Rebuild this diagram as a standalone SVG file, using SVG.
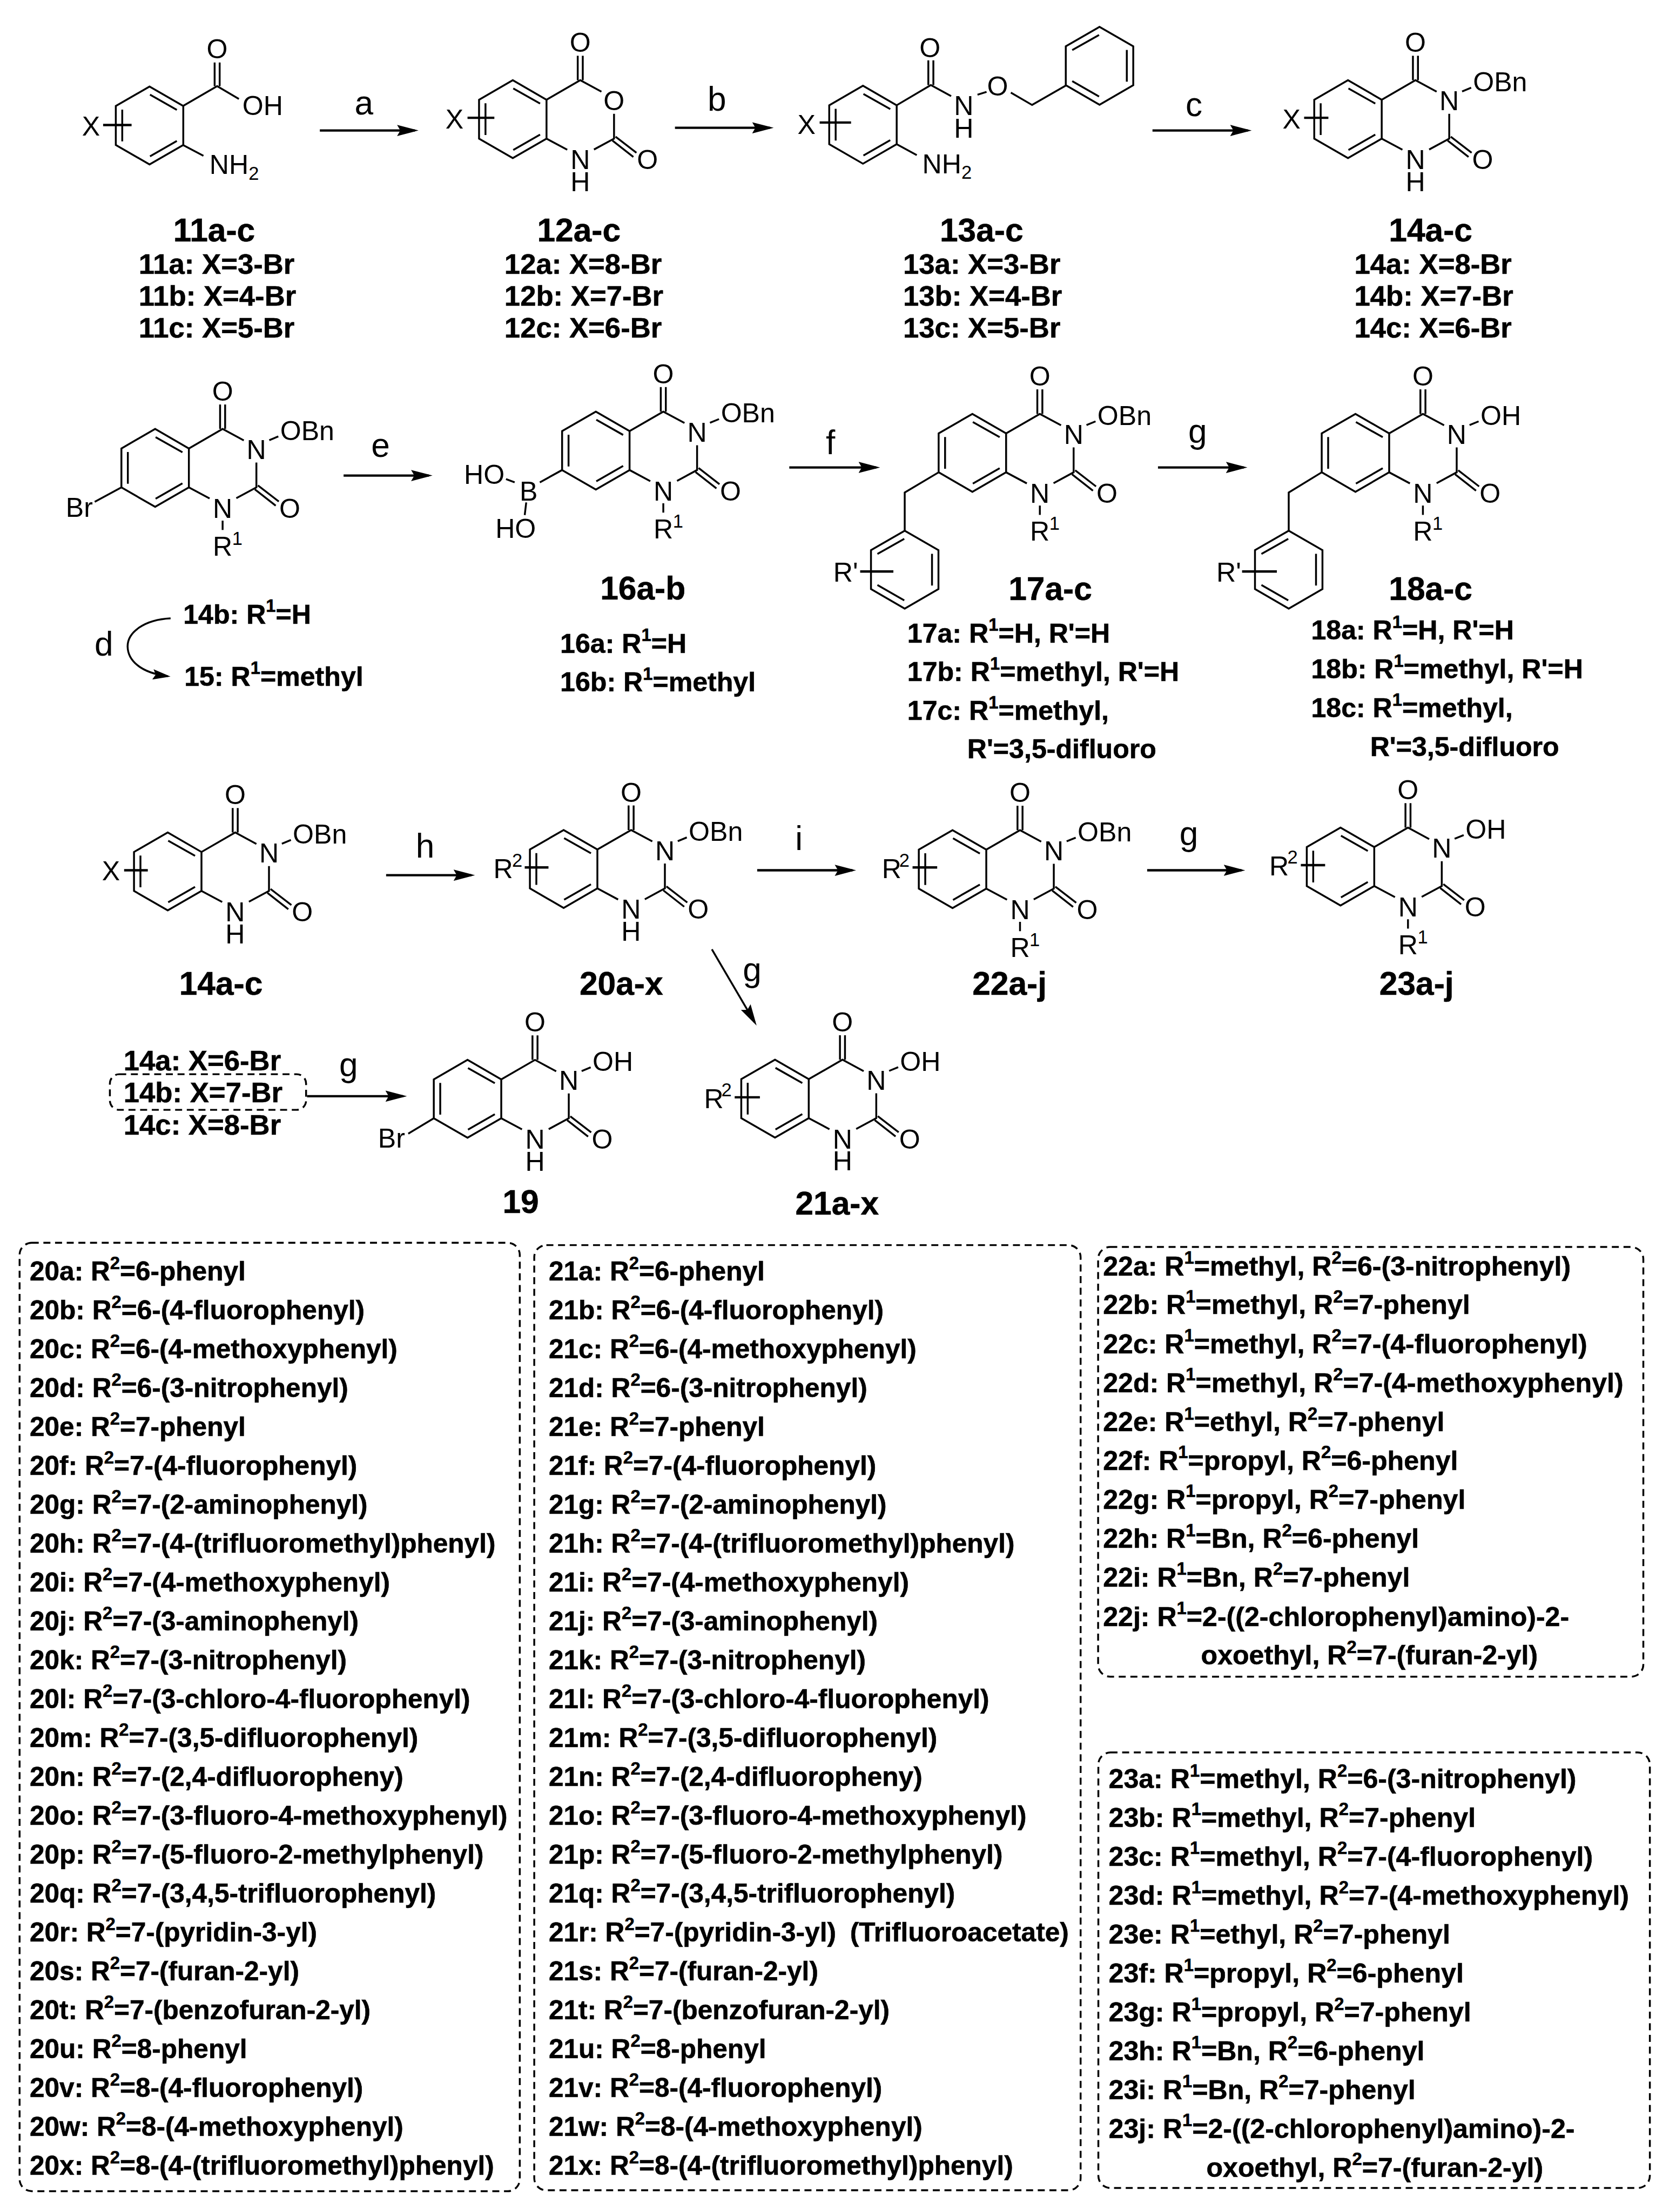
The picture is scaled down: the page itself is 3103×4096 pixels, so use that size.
<svg xmlns="http://www.w3.org/2000/svg" width="3103" height="4096" viewBox="0 0 3103 4096">
<style>
text{font-family:"Liberation Sans",Arial,sans-serif;fill:#000}
.a{font-size:58px}
.am{font-size:58px;text-anchor:middle}
.rx{font-size:72px;text-anchor:middle}
.n{font-size:70px;font-weight:700;text-anchor:middle;stroke:#000;stroke-width:.7}
.m{font-size:61px;font-weight:700;stroke:#000;stroke-width:.7}
.l{font-size:58px;font-weight:700;stroke:#000;stroke-width:.7}
#list-20 .l,#list-21 .l{font-size:57.4px}
.u{font-size:38px}
.s{font-size:40px}
.b,.b path,.b polygon{fill:none;stroke:#000;stroke-width:4;stroke-linejoin:miter}
.sub{fill:none;stroke:#000;stroke-width:5}
.arr{fill:none;stroke:#000;stroke-width:5;marker-end:url(#ah)}
.arr2{fill:none;stroke:#000;stroke-width:4;marker-end:url(#ah)}
.cur{fill:none;stroke:#000;stroke-width:4;marker-end:url(#ah2)}
.d{fill:none;stroke:#000;stroke-width:4;stroke-dasharray:15 10}
</style>
<defs>
<marker id="ah" markerUnits="userSpaceOnUse" viewBox="0 0 46 24" refX="38" refY="12" markerWidth="46" markerHeight="24" orient="auto"><path d="M0 0L46 12L0 24L7 12Z" fill="#000"/></marker>
<marker id="ah2" markerUnits="userSpaceOnUse" viewBox="0 0 38 22" refX="32" refY="11" markerWidth="38" markerHeight="22" orient="auto"><path d="M0 0L38 11L0 22L6 11Z" fill="#000"/></marker>
<g id="benz" class="b"><polygon points="0,-83.5 72.3,-41.75 72.3,41.75 0,83.5 -72.3,41.75 -72.3,-41.75"/><path d="M1 -66L58.5 -33.5M-58.5 -34V34M1 66L58.5 33"/></g>
<g id="pyr" class="b"><path d="M72.3 -41.75L144.6 -83.5L190 -59M217 -11.5V41.75L174 65M72.3 41.75L116.7 65.5M139.2 -83.5V-136M150 -83.5V-136M220.3 37.5L265 72M213.7 46L258.4 81"/></g>
<g id="noh" class="b"><path d="M244.6 -59.5L264 -67.5"/></g>
<g id="nr" class="b"><path d="M144.6 113V133"/></g>
</defs>
<g transform="scale(0.86386)">
<g id="connectors">
<path class="arr" d="M685.5 279.7H889"/>
<path class="arr" d="M1446.6 274H1650"/>
<path class="arr" d="M2470 279.7H2674.5"/>
<path class="arr" d="M736.4 1019.4H919"/>
<path class="arr" d="M1691.6 1002H1878"/>
<path class="arr" d="M2481.8 1002H2665.5"/>
<path class="arr" d="M827.5 1876H1010"/>
<path class="arr" d="M1622.8 1865.5H1827"/>
<path class="arr" d="M2458.6 1865.5H2660.7"/>
<path class="arr" d="M658 2349.7H864"/>
<path class="arr2" d="M1525.7 2035L1617.5 2191.4"/>
<path class="cur" d="M365.6 1325.4C310 1328 273 1355 273.5 1386C274 1415 300 1442 359.5 1449.5"/>
<text class="rx" x="780" y="245">a</text>
<text class="rx" x="1536.5" y="237.5">b</text>
<text class="rx" x="2559" y="249">c</text>
<text class="rx" x="222.5" y="1405.8">d</text>
<text class="rx" x="815.6" y="979">e</text>
<text class="rx" x="1780" y="973.5">f</text>
<text class="rx" x="2566.7" y="949.4">g</text>
<text class="rx" x="911" y="1838">h</text>
<text class="rx" x="1712.4" y="1822.6">i</text>
<text class="rx" x="2548" y="1811.6">g</text>
<text class="rx" x="1612" y="2103.6">g</text>
<text class="rx" x="747" y="2307.5">g</text>
</g>
<g id="cmpd-11">
<use href="#benz" x="320.5" y="269"/>
<g class="b"><path d="M392.7 227L465.4 184.6L512 212M460 184.6V134M470.8 184.6V134M392.7 311L436 334"/></g>
<path class="sub" d="M221 268H282"/>
<text class="am" x="195" y="291">X</text>
<text class="am" x="465.4" y="125">O</text>
<text class="a" x="519.6" y="246.6">OH</text>
<text class="a" x="449" y="373">NH<tspan class="s" dy="12">2</tspan></text>
<text class="n" x="459" y="517.6">11a-c</text>
<text class="m" x="297.3" y="586.4">11a: X=3-Br</text>
<text class="m" x="297.3" y="655">11b: X=4-Br</text>
<text class="m" x="297.3" y="723">11c: X=5-Br</text>
</g>
<g id="cmpd-12">
<g transform="translate(1099,255.5)">
<use href="#benz"/><use href="#pyr"/>
<path class="sub" d="M-97 -3H-39.500"/>
<text class="am" x="-125" y="19.500">X</text>
<text class="am" x="144.600" y="-144">O</text>
<text class="am" x="217" y="-19">O</text>
<text class="am" x="288.600" y="107">O</text>
<text class="am"><tspan x="144.600" y="107">N</tspan><tspan x="144.600" y="154">H</tspan></text>
</g>
<text class="n" x="1240.7" y="517.6">12a-c</text>
<text class="m" x="1081" y="586.4">12a: X=8-Br</text>
<text class="m" x="1081" y="655">12b: X=7-Br</text>
<text class="m" x="1081" y="723">12c: X=6-Br</text>
</g>
<g id="cmpd-13">
<use href="#benz" x="1849.5" y="267.4"/>
<use href="#benz" transform="translate(2356.5,141) scale(-1,1)"/>
<g class="b"><path d="M1921.8 225.6L1995 182.3L2038.500 206M1989.6 182.3V129.500M2000.4 182.3V129.500M2095 203L2114.4 197M2166.5 198.4L2212 225L2284.6 183.3M1921.8 309L1964.8 332.500"/></g>
<path class="sub" d="M1756.7 262.7H1824"/>
<text class="am" x="1728.5" y="286.6">X</text>
<text class="am" x="1993" y="122.7">O</text>
<text class="am"><tspan x="2065.6" y="246.6">N</tspan><tspan x="2065.6" y="295">H</tspan></text>
<text class="am" x="2138" y="204.4">O</text>
<text class="a" x="1976.7" y="371.5">NH<tspan class="s" dy="12">2</tspan></text>
<text class="n" x="2103.6" y="517.6">13a-c</text>
<text class="m" x="1935.5" y="586.4">13a: X=3-Br</text>
<text class="m" x="1935.5" y="655">13b: X=4-Br</text>
<text class="m" x="1935.5" y="723">13c: X=5-Br</text>
</g>
<g id="cmpd-14">
<g transform="translate(2889,255.5)">
<use href="#benz"/><use href="#pyr"/><use href="#noh"/>
<path class="sub" d="M-94 -3H-42"/>
<text class="am" x="-121" y="19.500">X</text>
<text class="am" x="144.600" y="-144">O</text>
<text class="am" x="217" y="-19">N</text>
<text class="a" x="268" y="-60">OBn</text>
<text class="am" x="288.600" y="107">O</text>
<text class="am"><tspan x="144.600" y="107">N</tspan><tspan x="144.600" y="154">H</tspan></text>
</g>
<text class="n" x="3066" y="517.6">14a-c</text>
<text class="m" x="2902.6" y="586.4">14a: X=8-Br</text>
<text class="m" x="2902.6" y="655">14b: X=7-Br</text>
<text class="m" x="2902.6" y="723">14c: X=6-Br</text>
</g>
<g id="cmpd-15">
<g transform="translate(332.5,1003)">
<use href="#benz"/><use href="#pyr"/><use href="#noh"/><use href="#nr"/>
<g class="b"><path d="M-72.3 41.75L-129.500 72.7"/></g>
<text class="a" x="-191.500" y="105.400">Br</text>
<text class="am" x="144.600" y="-144">O</text>
<text class="am" x="217" y="-19">N</text>
<text class="a" x="268" y="-60">OBn</text>
<text class="am" x="288.600" y="107">O</text>
<text class="am" x="144.600" y="107">N</text>
<text class="am" x="144.600" y="188">R</text><text class="s" x="165" y="165">1</text>
</g>
<text class="l" x="392.7" y="1337">14b: R<tspan class="u" dy="-25">1</tspan><tspan dy="25">=H</tspan></text>
<text class="l" x="395" y="1470">15: R<tspan class="u" dy="-25">1</tspan><tspan dy="25">=methyl</tspan></text>
</g>
<g id="cmpd-16">
<g transform="translate(1277,965.8)">
<use href="#benz"/><use href="#pyr"/><use href="#noh"/><use href="#nr"/>
<g class="b"><path d="M-72.3 41.75L-120 68.2M-174 68.2L-192.500 61.2M-149.2 111.2L-152.4 138.2"/></g>
<text class="am" x="-144" y="107">B</text>
<text class="a" x="-282.6" y="71">HO</text>
<text class="a" x="-215.3" y="187.2">HO</text>
<text class="am" x="144.600" y="-144">O</text>
<text class="am" x="217" y="-19">N</text>
<text class="a" x="268" y="-60">OBn</text>
<text class="am" x="288.600" y="107">O</text>
<text class="am" x="144.600" y="107">N</text>
<text class="am" x="144.600" y="188">R</text><text class="s" x="165" y="165">1</text>
</g>
<text class="n" x="1377.7" y="1285">16a-b</text>
<text class="l" x="1200.5" y="1399">16a: R<tspan class="u" dy="-25">1</tspan><tspan dy="25">=H</tspan></text>
<text class="l" x="1200.5" y="1482">16b: R<tspan class="u" dy="-25">1</tspan><tspan dy="25">=methyl</tspan></text>
</g>
<g id="cmpd-17">
<g transform="translate(2084,970.7)">
<use href="#benz"/><use href="#pyr"/><use href="#noh"/><use href="#nr"/>
<use href="#benz" transform="translate(-145,250.3) scale(-1,1)"/>
<g class="b"><path d="M-72.3 41.75L-145 85V166.800"/></g>
<path class="sub" d="M-240.500 254.300H-169.300"/>
<text class="a" x="-298" y="276">R'</text>
<text class="am" x="144.600" y="-144">O</text>
<text class="am" x="217" y="-19">N</text>
<text class="a" x="268" y="-60">OBn</text>
<text class="am" x="288.600" y="107">O</text>
<text class="am" x="144.600" y="107">N</text>
<text class="am" x="144.600" y="188">R</text><text class="s" x="165" y="165">1</text>
</g>
<text class="n" x="2251" y="1286.4">17a-c</text>
<text class="l" x="1944.5" y="1377">17a: R<tspan class="u" dy="-25">1</tspan><tspan dy="25">=H, R'=H</tspan></text>
<text class="l" x="1944.5" y="1460">17b: R<tspan class="u" dy="-25">1</tspan><tspan dy="25">=methyl, R'=H</tspan></text>
<text class="l" x="1944.5" y="1543.5">17c: R<tspan class="u" dy="-25">1</tspan><tspan dy="25">=methyl,</tspan></text>
<text class="l" x="2073" y="1625.6">R'=3,5-difluoro</text>
</g>
<g id="cmpd-18">
<g transform="translate(2905,970.7)">
<use href="#benz"/><use href="#pyr"/><use href="#noh"/><use href="#nr"/>
<use href="#benz" transform="translate(-143,250.3) scale(-1,1)"/>
<g class="b"><path d="M-72.3 41.75L-143 85V166.800"/></g>
<path class="sub" d="M-243 254.300H-168.400"/>
<text class="a" x="-298" y="276">R'</text>
<text class="am" x="144.600" y="-144">O</text>
<text class="am" x="217" y="-19">N</text>
<text class="a" x="268" y="-60">OH</text>
<text class="am" x="288.600" y="107">O</text>
<text class="am" x="144.600" y="107">N</text>
<text class="am" x="144.600" y="188">R</text><text class="s" x="165" y="165">1</text>
</g>
<text class="n" x="3066" y="1286.4">18a-c</text>
<text class="l" x="2810" y="1371">18a: R<tspan class="u" dy="-25">1</tspan><tspan dy="25">=H, R'=H</tspan></text>
<text class="l" x="2810" y="1454.5">18b: R<tspan class="u" dy="-25">1</tspan><tspan dy="25">=methyl, R'=H</tspan></text>
<text class="l" x="2810" y="1537.8">18c: R<tspan class="u" dy="-25">1</tspan><tspan dy="25">=methyl,</tspan></text>
<text class="l" x="2936.4" y="1621">R'=3,5-difluoro</text>
</g>
<g id="cmpd-14-row3">
<g transform="translate(359.5,1868)">
<use href="#benz"/><use href="#pyr"/><use href="#noh"/>
<path class="sub" d="M-93.500 -2.500H-42.700"/>
<text class="am" x="-121.800" y="19">X</text>
<text class="am" x="144.600" y="-144">O</text>
<text class="am" x="217" y="-19">N</text>
<text class="a" x="268" y="-60">OBn</text>
<text class="am" x="288.600" y="107">O</text>
<text class="am"><tspan x="144.600" y="107">N</tspan><tspan x="144.600" y="154">H</tspan></text>
</g>
<text class="n" x="473.5" y="2132">14a-c</text>
<text class="m" x="264.8" y="2294">14a: X=6-Br</text>
<text class="m" x="264.8" y="2362.6">14b: X=7-Br</text>
<text class="m" x="264.8" y="2431.8">14c: X=8-Br</text>
<rect class="d" x="235.5" y="2302.6" width="420.5" height="76.4" rx="20"/>
</g>
<g id="cmpd-20">
<g transform="translate(1208,1862.6)">
<use href="#benz"/><use href="#pyr"/><use href="#noh"/>
<path class="sub" d="M-83.400 -3.200H-32.500"/>
<text class="a" x="-150.600" y="20">R</text><text class="s" x="-110.500" y="-5">2</text>
<text class="am" x="144.600" y="-144">O</text>
<text class="am" x="217" y="-19">N</text>
<text class="a" x="268" y="-60">OBn</text>
<text class="am" x="288.600" y="107">O</text>
<text class="am"><tspan x="144.600" y="107">N</tspan><tspan x="144.600" y="154">H</tspan></text>
</g>
<text class="n" x="1331.6" y="2132">20a-x</text>
</g>
<g id="cmpd-22">
<g transform="translate(2041.5,1863)">
<use href="#benz"/><use href="#pyr"/><use href="#noh"/><use href="#nr"/>
<path class="sub" d="M-85.700 -3.600H-32.900"/>
<text class="a" x="-151.500" y="19.600">R</text><text class="s" x="-114.500" y="-5.400">2</text>
<text class="am" x="144.600" y="-144">O</text>
<text class="am" x="217" y="-19">N</text>
<text class="a" x="268" y="-60">OBn</text>
<text class="am" x="288.600" y="107">O</text>
<text class="am" x="144.600" y="107">N</text>
<text class="am" x="144.600" y="188">R</text><text class="s" x="165" y="165">1</text>
</g>
<text class="n" x="2163.6" y="2132">22a-j</text>
</g>
<g id="cmpd-23">
<g transform="translate(2873,1857.5)">
<use href="#benz"/><use href="#pyr"/><use href="#noh"/><use href="#nr"/>
<path class="sub" d="M-85 -3H-33"/>
<text class="a" x="-152.700" y="18.500">R</text><text class="s" x="-114" y="-6.500">2</text>
<text class="am" x="144.600" y="-144">O</text>
<text class="am" x="217" y="-19">N</text>
<text class="a" x="268" y="-60">OH</text>
<text class="am" x="288.600" y="107">O</text>
<text class="am" x="144.600" y="107">N</text>
<text class="am" x="144.600" y="188">R</text><text class="s" x="165" y="165">1</text>
</g>
<text class="n" x="3036" y="2132">23a-j</text>
</g>
<g id="cmpd-19">
<g transform="translate(1002,2355.4)">
<use href="#benz"/><use href="#pyr"/><use href="#noh"/>
<g class="b"><path d="M-72.3 41.75L-127 74.600"/></g>
<text class="a" x="-192" y="105">Br</text>
<text class="am" x="144.600" y="-144">O</text>
<text class="am" x="217" y="-19">N</text>
<text class="a" x="268" y="-60">OH</text>
<text class="am" x="288.600" y="107">O</text>
<text class="am"><tspan x="144.600" y="107">N</tspan><tspan x="144.600" y="154">H</tspan></text>
</g>
<text class="n" x="1116" y="2600">19</text>
</g>
<g id="cmpd-21">
<g transform="translate(1661,2355)">
<use href="#benz"/><use href="#pyr"/><use href="#noh"/>
<path class="sub" d="M-86.400 -3H-32.400"/>
<text class="a" x="-152" y="20">R</text><text class="s" x="-115" y="-5">2</text>
<text class="am" x="144.600" y="-144">O</text>
<text class="am" x="217" y="-19">N</text>
<text class="a" x="268" y="-60">OH</text>
<text class="am" x="288.600" y="107">O</text>
<text class="am"><tspan x="144.600" y="107">N</tspan><tspan x="144.600" y="154">H</tspan></text>
</g>
<text class="n" x="1794" y="2604">21a-x</text>
</g>
<g id="list-20">
<rect class="d" x="42" y="2664" width="1072" height="2033" rx="26"/>
<text class="l" x="63.6" y="2745">20a: R<tspan class="u" dy="-25">2</tspan><tspan dy="25">=6-phenyl</tspan></text>
<text class="l" x="63.6" y="2828.4">20b: R<tspan class="u" dy="-25">2</tspan><tspan dy="25">=6-(4-fluorophenyl)</tspan></text>
<text class="l" x="63.6" y="2911.7">20c: R<tspan class="u" dy="-25">2</tspan><tspan dy="25">=6-(4-methoxyphenyl)</tspan></text>
<text class="l" x="63.6" y="2995">20d: R<tspan class="u" dy="-25">2</tspan><tspan dy="25">=6-(3-nitrophenyl)</tspan></text>
<text class="l" x="63.6" y="3078.4">20e: R<tspan class="u" dy="-25">2</tspan><tspan dy="25">=7-phenyl</tspan></text>
<text class="l" x="63.6" y="3161.8">20f: R<tspan class="u" dy="-25">2</tspan><tspan dy="25">=7-(4-fluorophenyl)</tspan></text>
<text class="l" x="63.6" y="3245.1">20g: R<tspan class="u" dy="-25">2</tspan><tspan dy="25">=7-(2-aminophenyl)</tspan></text>
<text class="l" x="63.6" y="3328.5">20h: R<tspan class="u" dy="-25">2</tspan><tspan dy="25">=7-(4-(trifluoromethyl)phenyl)</tspan></text>
<text class="l" x="63.6" y="3411.8">20i: R<tspan class="u" dy="-25">2</tspan><tspan dy="25">=7-(4-methoxyphenyl)</tspan></text>
<text class="l" x="63.6" y="3495.2">20j: R<tspan class="u" dy="-25">2</tspan><tspan dy="25">=7-(3-aminophenyl)</tspan></text>
<text class="l" x="63.6" y="3578.5">20k: R<tspan class="u" dy="-25">2</tspan><tspan dy="25">=7-(3-nitrophenyl)</tspan></text>
<text class="l" x="63.6" y="3661.9">20l: R<tspan class="u" dy="-25">2</tspan><tspan dy="25">=7-(3-chloro-4-fluorophenyl)</tspan></text>
<text class="l" x="63.6" y="3745.2">20m: R<tspan class="u" dy="-25">2</tspan><tspan dy="25">=7-(3,5-difluorophenyl)</tspan></text>
<text class="l" x="63.6" y="3828.6">20n: R<tspan class="u" dy="-25">2</tspan><tspan dy="25">=7-(2,4-difluoropheny)</tspan></text>
<text class="l" x="63.6" y="3911.9">20o: R<tspan class="u" dy="-25">2</tspan><tspan dy="25">=7-(3-fluoro-4-methoxyphenyl)</tspan></text>
<text class="l" x="63.6" y="3995.3">20p: R<tspan class="u" dy="-25">2</tspan><tspan dy="25">=7-(5-fluoro-2-methylphenyl)</tspan></text>
<text class="l" x="63.6" y="4078.6">20q: R<tspan class="u" dy="-25">2</tspan><tspan dy="25">=7-(3,4,5-trifluorophenyl)</tspan></text>
<text class="l" x="63.6" y="4162">20r: R<tspan class="u" dy="-25">2</tspan><tspan dy="25">=7-(pyridin-3-yl)</tspan></text>
<text class="l" x="63.6" y="4245.3">20s: R<tspan class="u" dy="-25">2</tspan><tspan dy="25">=7-(furan-2-yl)</tspan></text>
<text class="l" x="63.6" y="4328.7">20t: R<tspan class="u" dy="-25">2</tspan><tspan dy="25">=7-(benzofuran-2-yl)</tspan></text>
<text class="l" x="63.6" y="4412">20u: R<tspan class="u" dy="-25">2</tspan><tspan dy="25">=8-phenyl</tspan></text>
<text class="l" x="63.6" y="4495.4">20v: R<tspan class="u" dy="-25">2</tspan><tspan dy="25">=8-(4-fluorophenyl)</tspan></text>
<text class="l" x="63.6" y="4578.7">20w: R<tspan class="u" dy="-25">2</tspan><tspan dy="25">=8-(4-methoxyphenyl)</tspan></text>
<text class="l" x="63.6" y="4662">20x: R<tspan class="u" dy="-25">2</tspan><tspan dy="25">=8-(4-(trifluoromethyl)phenyl)</tspan></text>
</g>
<g id="list-21">
<rect class="d" x="1145" y="2669" width="1171" height="2026" rx="26"/>
<text class="l" x="1176" y="2745">21a: R<tspan class="u" dy="-25">2</tspan><tspan dy="25">=6-phenyl</tspan></text>
<text class="l" x="1176" y="2828.4">21b: R<tspan class="u" dy="-25">2</tspan><tspan dy="25">=6-(4-fluorophenyl)</tspan></text>
<text class="l" x="1176" y="2911.7">21c: R<tspan class="u" dy="-25">2</tspan><tspan dy="25">=6-(4-methoxyphenyl)</tspan></text>
<text class="l" x="1176" y="2995">21d: R<tspan class="u" dy="-25">2</tspan><tspan dy="25">=6-(3-nitrophenyl)</tspan></text>
<text class="l" x="1176" y="3078.4">21e: R<tspan class="u" dy="-25">2</tspan><tspan dy="25">=7-phenyl</tspan></text>
<text class="l" x="1176" y="3161.8">21f: R<tspan class="u" dy="-25">2</tspan><tspan dy="25">=7-(4-fluorophenyl)</tspan></text>
<text class="l" x="1176" y="3245.1">21g: R<tspan class="u" dy="-25">2</tspan><tspan dy="25">=7-(2-aminophenyl)</tspan></text>
<text class="l" x="1176" y="3328.5">21h: R<tspan class="u" dy="-25">2</tspan><tspan dy="25">=7-(4-(trifluoromethyl)phenyl)</tspan></text>
<text class="l" x="1176" y="3411.8">21i: R<tspan class="u" dy="-25">2</tspan><tspan dy="25">=7-(4-methoxyphenyl)</tspan></text>
<text class="l" x="1176" y="3495.2">21j: R<tspan class="u" dy="-25">2</tspan><tspan dy="25">=7-(3-aminophenyl)</tspan></text>
<text class="l" x="1176" y="3578.5">21k: R<tspan class="u" dy="-25">2</tspan><tspan dy="25">=7-(3-nitrophenyl)</tspan></text>
<text class="l" x="1176" y="3661.9">21l: R<tspan class="u" dy="-25">2</tspan><tspan dy="25">=7-(3-chloro-4-fluorophenyl)</tspan></text>
<text class="l" x="1176" y="3745.2">21m: R<tspan class="u" dy="-25">2</tspan><tspan dy="25">=7-(3,5-difluorophenyl)</tspan></text>
<text class="l" x="1176" y="3828.6">21n: R<tspan class="u" dy="-25">2</tspan><tspan dy="25">=7-(2,4-difluoropheny)</tspan></text>
<text class="l" x="1176" y="3911.9">21o: R<tspan class="u" dy="-25">2</tspan><tspan dy="25">=7-(3-fluoro-4-methoxyphenyl)</tspan></text>
<text class="l" x="1176" y="3995.3">21p: R<tspan class="u" dy="-25">2</tspan><tspan dy="25">=7-(5-fluoro-2-methylphenyl)</tspan></text>
<text class="l" x="1176" y="4078.6">21q: R<tspan class="u" dy="-25">2</tspan><tspan dy="25">=7-(3,4,5-trifluorophenyl)</tspan></text>
<text class="l" x="1176" y="4162">21r: R<tspan class="u" dy="-25">2</tspan><tspan dy="25">=7-(pyridin-3-yl) </tspan><tspan dx="14">(Trifluoroacetate)</tspan></text>
<text class="l" x="1176" y="4245.3">21s: R<tspan class="u" dy="-25">2</tspan><tspan dy="25">=7-(furan-2-yl)</tspan></text>
<text class="l" x="1176" y="4328.7">21t: R<tspan class="u" dy="-25">2</tspan><tspan dy="25">=7-(benzofuran-2-yl)</tspan></text>
<text class="l" x="1176" y="4412">21u: R<tspan class="u" dy="-25">2</tspan><tspan dy="25">=8-phenyl</tspan></text>
<text class="l" x="1176" y="4495.4">21v: R<tspan class="u" dy="-25">2</tspan><tspan dy="25">=8-(4-fluorophenyl)</tspan></text>
<text class="l" x="1176" y="4578.7">21w: R<tspan class="u" dy="-25">2</tspan><tspan dy="25">=8-(4-methoxyphenyl)</tspan></text>
<text class="l" x="1176" y="4662">21x: R<tspan class="u" dy="-25">2</tspan><tspan dy="25">=8-(4-(trifluoromethyl)phenyl)</tspan></text>
</g>
<g id="list-22">
<rect class="d" x="2353.5" y="2673" width="1168.5" height="921" rx="26"/>
<text class="l" x="2364" y="2734">22a: R<tspan class="u" dy="-25">1</tspan><tspan dy="25">=methyl, R</tspan><tspan class="u" dy="-25">2</tspan><tspan dy="25">=6-(3-nitrophenyl)</tspan></text>
<text class="l" x="2364" y="2817">22b: R<tspan class="u" dy="-25">1</tspan><tspan dy="25">=methyl, R</tspan><tspan class="u" dy="-25">2</tspan><tspan dy="25">=7-phenyl</tspan></text>
<text class="l" x="2364" y="2901">22c: R<tspan class="u" dy="-25">1</tspan><tspan dy="25">=methyl, R</tspan><tspan class="u" dy="-25">2</tspan><tspan dy="25">=7-(4-fluorophenyl)</tspan></text>
<text class="l" x="2364" y="2984">22d: R<tspan class="u" dy="-25">1</tspan><tspan dy="25">=methyl, R</tspan><tspan class="u" dy="-25">2</tspan><tspan dy="25">=7-(4-methoxyphenyl)</tspan></text>
<text class="l" x="2364" y="3068">22e: R<tspan class="u" dy="-25">1</tspan><tspan dy="25">=ethyl, R</tspan><tspan class="u" dy="-25">2</tspan><tspan dy="25">=7-phenyl</tspan></text>
<text class="l" x="2364" y="3151">22f: R<tspan class="u" dy="-25">1</tspan><tspan dy="25">=propyl, R</tspan><tspan class="u" dy="-25">2</tspan><tspan dy="25">=6-phenyl</tspan></text>
<text class="l" x="2364" y="3234">22g: R<tspan class="u" dy="-25">1</tspan><tspan dy="25">=propyl, R</tspan><tspan class="u" dy="-25">2</tspan><tspan dy="25">=7-phenyl</tspan></text>
<text class="l" x="2364" y="3318">22h: R<tspan class="u" dy="-25">1</tspan><tspan dy="25">=Bn, R</tspan><tspan class="u" dy="-25">2</tspan><tspan dy="25">=6-phenyl</tspan></text>
<text class="l" x="2364" y="3401">22i: R<tspan class="u" dy="-25">1</tspan><tspan dy="25">=Bn, R</tspan><tspan class="u" dy="-25">2</tspan><tspan dy="25">=7-phenyl</tspan></text>
<text class="l" x="2364" y="3485">22j: R<tspan class="u" dy="-25">1</tspan><tspan dy="25">=2-((2-chlorophenyl)amino)-2-</tspan></text>
<text class="l" x="2574" y="3568">oxoethyl, R<tspan class="u" dy="-25">2</tspan><tspan dy="25">=7-(furan-2-yl)</tspan></text>
</g>
<g id="list-23">
<rect class="d" x="2354" y="3756.5" width="1182" height="933.5" rx="26"/>
<text class="l" x="2376" y="3833">23a: R<tspan class="u" dy="-25">1</tspan><tspan dy="25">=methyl, R</tspan><tspan class="u" dy="-25">2</tspan><tspan dy="25">=6-(3-nitrophenyl)</tspan></text>
<text class="l" x="2376" y="3916">23b: R<tspan class="u" dy="-25">1</tspan><tspan dy="25">=methyl, R</tspan><tspan class="u" dy="-25">2</tspan><tspan dy="25">=7-phenyl</tspan></text>
<text class="l" x="2376" y="3999.6">23c: R<tspan class="u" dy="-25">1</tspan><tspan dy="25">=methyl, R</tspan><tspan class="u" dy="-25">2</tspan><tspan dy="25">=7-(4-fluorophenyl)</tspan></text>
<text class="l" x="2376" y="4083">23d: R<tspan class="u" dy="-25">1</tspan><tspan dy="25">=methyl, R</tspan><tspan class="u" dy="-25">2</tspan><tspan dy="25">=7-(4-methoxyphenyl)</tspan></text>
<text class="l" x="2376" y="4166">23e: R<tspan class="u" dy="-25">1</tspan><tspan dy="25">=ethyl, R</tspan><tspan class="u" dy="-25">2</tspan><tspan dy="25">=7-phenyl</tspan></text>
<text class="l" x="2376" y="4250">23f: R<tspan class="u" dy="-25">1</tspan><tspan dy="25">=propyl, R</tspan><tspan class="u" dy="-25">2</tspan><tspan dy="25">=6-phenyl</tspan></text>
<text class="l" x="2376" y="4333">23g: R<tspan class="u" dy="-25">1</tspan><tspan dy="25">=propyl, R</tspan><tspan class="u" dy="-25">2</tspan><tspan dy="25">=7-phenyl</tspan></text>
<text class="l" x="2376" y="4416">23h: R<tspan class="u" dy="-25">1</tspan><tspan dy="25">=Bn, R</tspan><tspan class="u" dy="-25">2</tspan><tspan dy="25">=6-phenyl</tspan></text>
<text class="l" x="2376" y="4499">23i: R<tspan class="u" dy="-25">1</tspan><tspan dy="25">=Bn, R</tspan><tspan class="u" dy="-25">2</tspan><tspan dy="25">=7-phenyl</tspan></text>
<text class="l" x="2376" y="4583">23j: R<tspan class="u" dy="-25">1</tspan><tspan dy="25">=2-((2-chlorophenyl)amino)-2-</tspan></text>
<text class="l" x="2585.5" y="4666">oxoethyl, R<tspan class="u" dy="-25">2</tspan><tspan dy="25">=7-(furan-2-yl)</tspan></text>
</g>
</g>
</svg>
